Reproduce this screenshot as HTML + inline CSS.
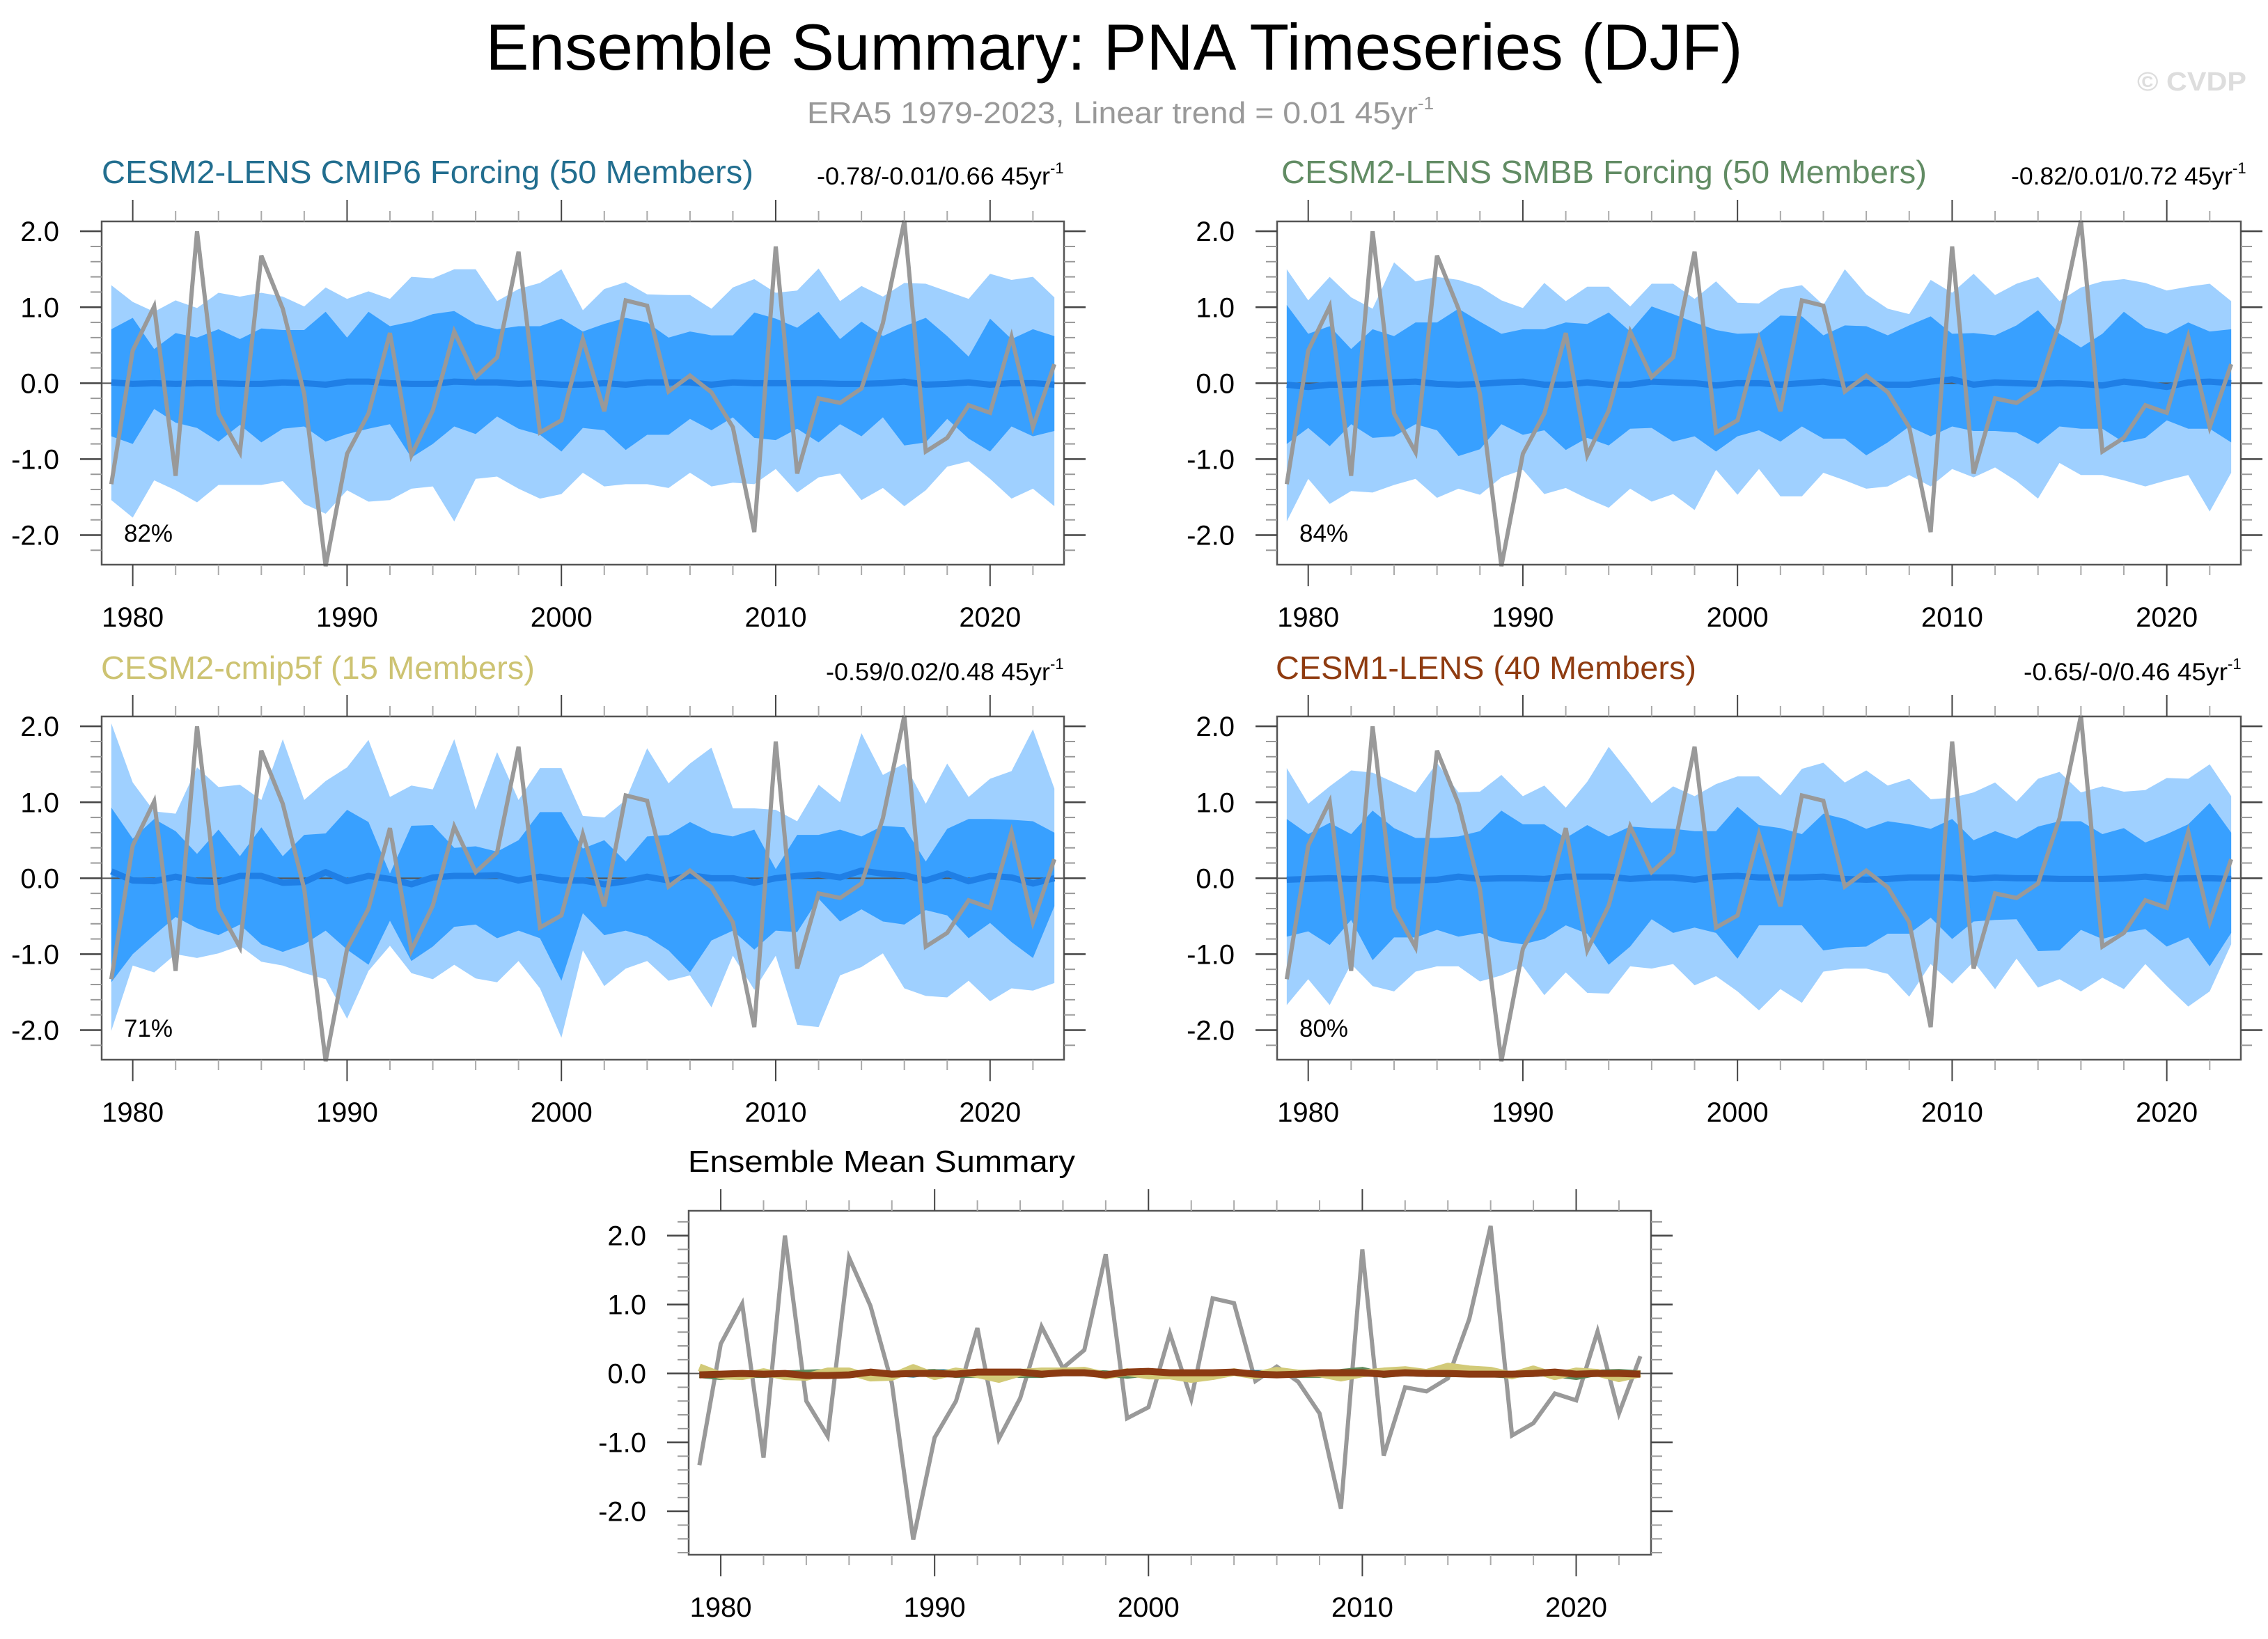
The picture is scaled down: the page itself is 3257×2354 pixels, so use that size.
<!DOCTYPE html>
<html><head><meta charset="utf-8"><title>Ensemble Summary: PNA Timeseries (DJF)</title>
<style>html,body{margin:0;padding:0;background:#fff;}svg{display:block;font-family:"Liberation Sans",Arial,sans-serif;}</style>
</head><body>
<svg id="chart" xmlns="http://www.w3.org/2000/svg" width="3257" height="2354" viewBox="0 0 3257 2354">
<rect x="0" y="0" width="3257" height="2354" fill="#fff"/>
<text x="1600" y="100" font-size="94" text-anchor="middle" textLength="1805" lengthAdjust="spacingAndGlyphs" fill="#000">Ensemble Summary: PNA Timeseries (DJF)</text>
<text x="1159" y="177" font-size="44" fill="#999"><tspan textLength="877" lengthAdjust="spacingAndGlyphs">ERA5 1979-2023, Linear trend = 0.01 45yr</tspan><tspan font-size="26" dy="-20">-1</tspan></text>
<text x="3069" y="130" font-size="38" font-weight="bold" fill="#ddd" textLength="157" lengthAdjust="spacingAndGlyphs">© CVDP</text>

<text x="146" y="263" font-size="46" fill="#226e8f" textLength="936" lengthAdjust="spacingAndGlyphs">CESM2-LENS CMIP6 Forcing (50 Members)</text>
<text x="1173" y="265" font-size="35" fill="#000"><tspan textLength="335" lengthAdjust="spacingAndGlyphs">-0.78/-0.01/0.66 45yr</tspan><tspan font-size="22" dy="-16">-1</tspan></text>
<text x="1840" y="263" font-size="46" fill="#628c64" textLength="927" lengthAdjust="spacingAndGlyphs">CESM2-LENS SMBB Forcing (50 Members)</text>
<text x="2888" y="265" font-size="35" fill="#000"><tspan textLength="318" lengthAdjust="spacingAndGlyphs">-0.82/0.01/0.72 45yr</tspan><tspan font-size="22" dy="-16">-1</tspan></text>
<text x="145" y="975" font-size="46" fill="#cdc372" textLength="623" lengthAdjust="spacingAndGlyphs">CESM2-cmip5f (15 Members)</text>
<text x="1186" y="977" font-size="35" fill="#000"><tspan textLength="322" lengthAdjust="spacingAndGlyphs">-0.59/0.02/0.48 45yr</tspan><tspan font-size="22" dy="-16">-1</tspan></text>
<text x="1832" y="975" font-size="46" fill="#8f3b10" textLength="604" lengthAdjust="spacingAndGlyphs">CESM1-LENS (40 Members)</text>
<text x="2906" y="977" font-size="35" fill="#000"><tspan textLength="293" lengthAdjust="spacingAndGlyphs">-0.65/-0/0.46 45yr</tspan><tspan font-size="22" dy="-16">-1</tspan></text>
<text x="988" y="1683" font-size="44" fill="#000" textLength="556" lengthAdjust="spacingAndGlyphs">Ensemble Mean Summary</text>
<g id="plots"></g>
</svg>
<script>
const years = [1979,1980,1981,1982,1983,1984,1985,1986,1987,1988,1989,1990,1991,1992,1993,1994,1995,1996,1997,1998,1999,2000,2001,2002,2003,2004,2005,2006,2007,2008,2009,2010,2011,2012,2013,2014,2015,2016,2017,2018,2019,2020,2021,2022,2023];
const era5 = [-1.33,0.43,1.01,-1.22,2.0,-0.40,-0.91,1.68,0.98,-0.14,-2.41,-0.93,-0.40,0.66,-0.95,-0.36,0.68,0.08,0.34,1.73,-0.65,-0.49,0.58,-0.37,1.09,1.02,-0.11,0.10,-0.12,-0.58,-1.96,1.80,-1.19,-0.20,-0.26,-0.07,0.79,2.14,-0.90,-0.72,-0.29,-0.39,0.61,-0.58,0.25];

const outerUp1 = [1.29,1.07,0.94,1.09,0.99,1.19,1.14,1.19,1.14,1.01,1.26,1.11,1.21,1.11,1.40,1.38,1.50,1.50,1.08,1.24,1.32,1.50,0.96,1.24,1.33,1.17,1.16,1.16,0.98,1.26,1.37,1.19,1.22,1.51,1.08,1.28,1.14,1.32,1.31,1.21,1.11,1.44,1.36,1.40,1.13];
const innerUp1 = [0.71,0.86,0.45,0.66,0.60,0.71,0.58,0.72,0.70,0.70,0.94,0.60,0.94,0.75,0.81,0.91,0.95,0.78,0.71,0.75,0.75,0.85,0.68,0.78,0.86,0.80,0.60,0.68,0.63,0.63,0.93,0.85,0.73,0.94,0.58,0.81,0.62,0.75,0.86,0.62,0.35,0.85,0.58,0.71,0.62];
const innerLo1 = [-0.70,-0.80,-0.34,-0.52,-0.59,-0.77,-0.55,-0.78,-0.60,-0.57,-0.77,-0.67,-0.60,-0.54,-0.98,-0.80,-0.57,-0.67,-0.44,-0.60,-0.68,-0.90,-0.59,-0.62,-0.88,-0.68,-0.68,-0.47,-0.62,-0.45,-0.72,-0.75,-0.60,-0.78,-0.54,-0.70,-0.45,-0.82,-0.78,-0.47,-0.73,-0.90,-0.57,-0.70,-0.63];
const outerLo1 = [-1.54,-1.77,-1.28,-1.41,-1.57,-1.34,-1.34,-1.34,-1.29,-1.59,-1.72,-1.41,-1.56,-1.54,-1.39,-1.36,-1.82,-1.26,-1.23,-1.39,-1.52,-1.46,-1.18,-1.36,-1.33,-1.33,-1.38,-1.18,-1.36,-1.31,-1.33,-1.13,-1.44,-1.24,-1.19,-1.54,-1.38,-1.62,-1.41,-1.10,-1.03,-1.26,-1.52,-1.39,-1.62];
const mean1 = [0.01,-0.01,0.00,-0.01,0.00,0.00,-0.01,-0.01,0.01,0.00,-0.02,0.02,0.02,0.00,-0.01,-0.01,0.02,0.01,0.01,-0.01,0.00,-0.02,-0.02,0.00,-0.02,0.01,0.01,0.01,-0.02,0.01,0.00,0.00,0.00,0.00,-0.01,-0.01,0.00,0.02,-0.02,-0.01,0.01,-0.02,0.00,0.00,-0.02];

const outerUp2 = [1.50,1.09,1.40,1.13,0.98,1.59,1.34,1.40,1.36,1.27,1.09,0.99,1.32,1.08,1.27,1.27,1.01,1.31,1.31,1.11,1.34,1.06,1.05,1.24,1.29,1.03,1.50,1.17,0.98,0.91,1.36,1.19,1.44,1.16,1.31,1.40,1.08,1.26,1.34,1.37,1.32,1.22,1.27,1.31,1.08];
const innerUp2 = [1.03,0.65,0.75,0.45,0.71,0.62,0.80,0.80,0.98,0.81,0.65,0.71,0.71,0.80,0.78,0.93,0.68,1.01,0.91,0.80,0.70,0.65,0.66,0.89,0.88,0.63,0.76,0.75,0.63,0.76,0.88,0.65,0.66,0.63,0.76,0.96,0.65,0.47,0.65,0.94,0.73,0.65,0.80,0.68,0.71];
const innerLo2 = [-0.80,-0.59,-0.83,-0.54,-0.72,-0.70,-0.54,-0.62,-0.96,-0.87,-0.54,-0.68,-0.62,-0.88,-0.72,-0.82,-0.60,-0.59,-0.77,-0.70,-0.90,-0.70,-0.62,-0.77,-0.57,-0.73,-0.73,-0.95,-0.78,-0.57,-0.70,-0.57,-0.63,-0.63,-0.65,-0.80,-0.57,-0.60,-0.60,-0.78,-0.72,-0.49,-0.60,-0.60,-0.78];
const outerLo2 = [-1.82,-1.26,-1.59,-1.42,-1.44,-1.34,-1.26,-1.51,-1.39,-1.47,-1.24,-1.14,-1.46,-1.38,-1.52,-1.64,-1.39,-1.56,-1.46,-1.67,-1.14,-1.47,-1.13,-1.49,-1.49,-1.18,-1.28,-1.39,-1.36,-1.21,-1.36,-1.13,-1.24,-1.11,-1.29,-1.52,-1.05,-1.21,-1.21,-1.28,-1.36,-1.28,-1.21,-1.69,-1.18];
const mean2 = [-0.02,-0.05,-0.02,-0.02,0.00,0.01,0.02,-0.01,-0.02,-0.01,0.01,0.02,-0.02,-0.02,0.01,-0.02,-0.02,0.02,0.01,0.00,-0.03,0.00,0.00,-0.02,0.00,0.02,-0.02,0.00,-0.02,-0.02,0.02,0.05,-0.02,0.01,0.00,-0.01,0.00,-0.01,-0.03,0.02,-0.01,-0.05,0.01,0.02,0.00];

const outerUp3 = [2.04,1.26,0.88,0.85,1.46,1.20,1.23,1.03,1.83,1.03,1.28,1.46,1.82,1.07,1.22,1.17,1.83,0.90,1.66,1.03,1.45,1.45,0.82,0.80,1.03,1.71,1.25,1.51,1.72,0.92,0.92,0.90,0.75,1.23,1.00,1.91,1.36,1.51,0.98,1.51,1.07,1.31,1.41,1.96,1.18];
const innerUp3 = [0.93,0.52,0.78,0.62,0.32,0.64,0.29,0.67,0.29,0.57,0.59,0.90,0.74,0.06,0.69,0.70,0.40,0.42,0.35,0.50,0.87,0.87,0.39,0.50,0.22,0.55,0.57,0.74,0.60,0.55,0.64,0.12,0.57,0.57,0.64,0.55,0.69,0.67,0.22,0.65,0.78,0.78,0.77,0.75,0.60];
const innerLo3 = [-1.37,-1.00,-0.75,-0.51,-0.66,-0.75,-0.61,-0.87,-0.97,-0.87,-0.69,-0.94,-1.14,-0.56,-1.09,-0.90,-0.64,-0.61,-0.79,-0.69,-0.79,-1.35,-0.46,-0.75,-0.69,-0.77,-0.95,-1.24,-0.82,-0.69,-0.94,-0.69,-0.71,-0.27,-0.57,-0.41,-0.57,-0.61,-0.42,-0.49,-0.79,-0.59,-0.84,-1.05,-0.37];
const outerLo3 = [-2.01,-1.15,-1.24,-1.00,-1.05,-0.99,-0.89,-1.10,-1.15,-1.25,-1.33,-1.85,-1.22,-0.89,-1.25,-1.33,-1.14,-1.32,-1.37,-1.09,-1.45,-2.10,-0.95,-1.42,-1.19,-1.09,-1.35,-1.28,-1.70,-1.02,-1.47,-1.02,-1.93,-1.96,-1.28,-1.17,-0.99,-1.45,-1.55,-1.57,-1.35,-1.62,-1.45,-1.48,-1.38];
const mean3 = [0.09,-0.03,-0.04,0.02,-0.04,-0.05,0.03,0.03,-0.06,-0.05,0.08,-0.04,0.03,-0.01,-0.08,0.01,0.03,0.03,0.04,-0.03,0.02,-0.03,-0.03,-0.08,-0.04,0.02,-0.03,0.04,0.00,0.00,-0.06,0.00,0.03,0.05,0.01,0.10,0.06,0.04,-0.03,0.06,-0.04,0.03,0.01,-0.07,0.00];

const outerUp4 = [1.45,0.98,1.21,1.42,1.39,1.26,1.13,1.52,1.13,1.14,1.36,1.08,1.22,0.93,1.27,1.73,1.37,0.99,1.21,1.08,1.24,1.34,1.34,1.09,1.44,1.52,1.26,1.42,1.22,1.31,1.04,1.06,1.13,1.26,1.01,1.31,1.40,1.13,1.21,1.14,1.16,1.32,1.31,1.50,1.08];
const innerUp4 = [0.78,0.58,0.73,0.58,0.89,0.66,0.53,0.53,0.55,0.62,0.89,0.71,0.71,0.53,0.70,0.55,0.68,0.66,0.65,0.62,0.62,0.94,0.70,0.66,0.58,0.85,0.78,0.65,0.75,0.71,0.65,0.78,0.50,0.62,0.52,0.68,0.75,0.75,0.58,0.66,0.47,0.58,0.71,0.99,0.60];
const innerLo4 = [-0.77,-0.70,-0.88,-0.55,-1.08,-0.78,-0.78,-0.68,-0.77,-0.72,-0.83,-0.87,-0.80,-0.62,-0.73,-1.14,-0.90,-0.54,-0.72,-0.65,-0.72,-1.06,-0.62,-0.62,-0.62,-0.95,-0.91,-0.90,-0.73,-0.73,-0.52,-0.80,-0.57,-0.55,-0.54,-0.96,-0.95,-0.68,-0.80,-0.72,-0.67,-0.90,-0.78,-1.16,-0.72];
const outerLo4 = [-1.67,-1.33,-1.67,-1.13,-1.42,-1.49,-1.23,-1.16,-1.16,-1.36,-1.28,-1.16,-1.54,-1.24,-1.51,-1.52,-1.16,-1.19,-1.13,-1.41,-1.29,-1.49,-1.74,-1.46,-1.64,-1.23,-1.19,-1.19,-1.26,-1.56,-1.13,-1.39,-1.10,-1.46,-1.06,-1.44,-1.33,-1.49,-1.31,-1.46,-1.13,-1.42,-1.69,-1.49,-0.87];
const mean4 = [-0.02,-0.01,0.00,-0.01,0.00,-0.03,-0.03,-0.02,0.02,-0.01,0.00,0.00,-0.01,0.02,0.02,0.02,-0.01,0.01,0.01,-0.02,0.02,0.03,0.01,0.01,0.01,0.02,-0.01,-0.02,-0.01,0.01,0.01,0.01,-0.01,0.01,0.00,0.00,-0.01,-0.01,-0.01,0.00,0.02,-0.01,0.00,0.00,-0.01];

const yTickValues = [-2, -1, 0, 1, 2];
const yTickLabels = ["-2.0", "-1.0", "0.0", "1.0", "2.0"];
const xTickValues = [1980, 1990, 2000, 2010, 2020];
const xTickLabels = ["1980", "1990", "2000", "2010", "2020"];
const pctLabels = ["82%", "84%", "71%", "80%"];

const NS = "http://www.w3.org/2000/svg";
const root = document.getElementById("plots");
function mk(tag, attrs, parent) {
  const e = document.createElementNS(NS, tag);
  for (const k in attrs) e.setAttribute(k, attrs[k]);
  (parent || root).appendChild(e);
  return e;
}

function drawPanel(p, idx, bands, mean, era, pct, extraMeans) {
  const g = mk("g", {});
  
  
  const X = yr => p.left + (yr - p.x0) / (p.x1 - p.x0) * (p.right - p.left);
  const Y = v => p.top + (p.y1 - v) / (p.y1 - p.y0) * (p.bottom - p.top);
  const clipId = "clip" + idx;
  const cp = mk("clipPath", {id: clipId}, g);
  mk("rect", {x: p.left, y: p.top - 6, width: p.right - p.left, height: p.bottom - p.top + 12}, cp);
  const inner = mk("g", {"clip-path": "url(#" + clipId + ")"}, g);
  if (bands) {
    const poly = (up, lo) => years.map((y, i) => X(y) + "," + Y(up[i])).concat(years.slice().reverse().map((y, j) => { const i = years.length - 1 - j; return X(y) + "," + Y(lo[i]); })).join(" ");
    const ob = mk("polygon", {points: poly(bands[0], bands[3]), fill: "#9fd0ff"}, inner);
    
    
    const ib = mk("polygon", {points: poly(bands[1], bands[2]), fill: "#38a0ff"}, inner);
    
    
  }
  const zl = mk("line", {x1: p.left, x2: p.right, y1: Y(0), y2: Y(0), stroke: "#555", "stroke-width": 2}, inner);
  
  
  const eral = mk("polyline", {points: years.map((y, i) => X(y) + "," + Y(era[i])).join(" "), fill: "none", stroke: "#999", "stroke-width": 6, "stroke-linejoin": "miter"}, g);
  
  
  if (extraMeans) {
    extraMeans.forEach(m => {
      const l = mk("polyline", {points: years.map((y, i) => X(y) + "," + Y(m.v[i])).join(" "), fill: "none", stroke: m.c, "stroke-width": m.w, "stroke-linejoin": "round"}, inner);
      
      
    });
    g.appendChild(inner);
  }
  if (mean) {
    const ml = mk("polyline", {points: years.map((y, i) => X(y) + "," + Y(mean[i])).join(" "), fill: "none", stroke: "#1f7fe6", "stroke-width": 9, "stroke-linejoin": "round"}, inner);
    
    
    g.appendChild(eral);
  }
  const box = mk("rect", {x: p.left, y: p.top, width: p.right - p.left, height: p.bottom - p.top, fill: "none", stroke: "#555", "stroke-width": 2.5}, g);
  
  
  for (let k = -14; k <= 12; k++) {
    const v = k * 0.2;
    if (v < p.y0 - 1e-6 || v > p.y1 + 1e-6) continue;
    const major = Math.abs(v - Math.round(v)) < 1e-6;
    const len = major ? 31 : 16;
    const col = major ? "#444" : "#999";
    mk("line", {x1: p.left - len, x2: p.left, y1: Y(v), y2: Y(v), stroke: col, "stroke-width": major ? 2.5 : 2}, g);
    mk("line", {x1: p.right, x2: p.right + len, y1: Y(v), y2: Y(v), stroke: col, "stroke-width": major ? 2.5 : 2}, g);
  }
  yTickValues.forEach((v, i) => {
    const t = mk("text", {x: p.left - 61, y: Y(v) + 14, "font-size": 40, "text-anchor": "end", fill: "#000"}, g);
    t.textContent = yTickLabels[i];
    
    
  });
  for (let yr = 1980; yr <= 2022; yr += 2) {
    const major = yr % 10 === 0;
    const len = major ? 31 : 15;
    const col = major ? "#444" : "#aaa";
    mk("line", {x1: X(yr), x2: X(yr), y1: p.top - len, y2: p.top, stroke: col, "stroke-width": 2}, g);
    mk("line", {x1: X(yr), x2: X(yr), y1: p.bottom, y2: p.bottom + len, stroke: col, "stroke-width": 2}, g);
  }
  xTickValues.forEach((v, i) => {
    const t = mk("text", {x: X(v), y: p.bottom + 89, "font-size": 40, "text-anchor": "middle", fill: "#000"}, g);
    t.textContent = xTickLabels[i];
    
    
  });
  if (pct) {
    const t = mk("text", {x: p.left + 32, y: p.bottom - 33, "font-size": 35, fill: "#000"}, g);
    t.textContent = pct;
    
    
  }
}

const P = [
  {left: 146, right: 1528, top: 318, bottom: 811, x0: 1978.55, x1: 2023.45, y0: -2.39, y1: 2.13},
  {left: 1834, right: 3218, top: 318, bottom: 811, x0: 1978.55, x1: 2023.45, y0: -2.39, y1: 2.13},
  {left: 146, right: 1528, top: 1029, bottom: 1522, x0: 1978.55, x1: 2023.45, y0: -2.39, y1: 2.13},
  {left: 1834, right: 3218, top: 1029, bottom: 1522, x0: 1978.55, x1: 2023.45, y0: -2.39, y1: 2.13},
  {left: 989, right: 2371, top: 1739, bottom: 2233, x0: 1978.5, x1: 2023.5, y0: -2.63, y1: 2.36}
];
drawPanel(P[0], 1, [outerUp1, innerUp1, innerLo1, outerLo1], mean1, era5, pctLabels[0]);
drawPanel(P[1], 2, [outerUp2, innerUp2, innerLo2, outerLo2], mean2, era5, pctLabels[1]);
drawPanel(P[2], 3, [outerUp3, innerUp3, innerLo3, outerLo3], mean3, era5, pctLabels[2]);
drawPanel(P[3], 4, [outerUp4, innerUp4, innerLo4, outerLo4], mean4, era5, pctLabels[3]);
drawPanel(P[4], 5, null, null, era5, null, [
  {v: mean1, c: "#1b6e8e", w: 8, n: "mean-line-cesm2-cmip6"},
  {v: mean2, c: "#5e8c5e", w: 9, n: "mean-line-cesm2-smbb"},
  {v: mean3, c: "#d2ca78", w: 11, n: "mean-line-cesm2-cmip5f"},
  {v: mean4, c: "#8b3a12", w: 10, n: "mean-line-cesm1-lens"}
]);
</script>
</body></html>
